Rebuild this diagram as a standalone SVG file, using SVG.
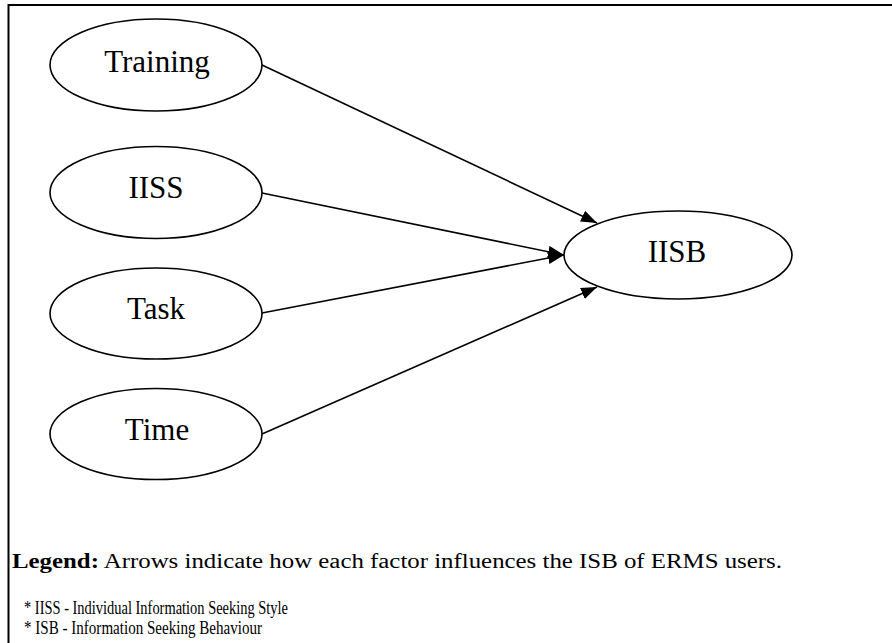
<svg xmlns="http://www.w3.org/2000/svg" width="892" height="643" viewBox="0 0 892 643">
<defs>
<style>
.node ellipse{fill:#fff;stroke:#000;stroke-width:1.6}
.node text{font-family:"Liberation Serif","Times New Roman",serif;font-size:31px;fill:#000;text-anchor:middle}
.edge{stroke:#000;stroke-width:1.6;fill:none;marker-end:url(#arrow)}
.legend{font-family:"Liberation Serif","Times New Roman",serif;font-size:20px;fill:#000}
.note{font-family:"Liberation Serif","Times New Roman",serif;font-size:18px;fill:#000}
</style>
<marker id="arrow" viewBox="0 0 16 12" refX="16" refY="6" markerUnits="userSpaceOnUse" markerWidth="16" markerHeight="12" orient="auto">
<path d="M0,0 L16,6 L0,12 Z" fill="#000"/>
</marker>
</defs>
<rect width="892" height="643" fill="#fff"/>
<path d="M8.5,643 V5 H892" fill="none" stroke="#000" stroke-width="2"/>
<g id="connectors">
<line class="edge" x1="262" y1="65" x2="597" y2="223"/>
<line class="edge" x1="262" y1="193" x2="564" y2="255"/>
<line class="edge" x1="262" y1="313" x2="564" y2="255"/>
<line class="edge" x1="262" y1="434" x2="597" y2="287"/>
</g>
<g id="node-training" class="node">
<ellipse cx="156" cy="65" rx="106" ry="46"/>
<text x="157" y="72">Training</text>
</g>
<g id="node-iiss" class="node">
<ellipse cx="156" cy="192.5" rx="106" ry="46"/>
<text x="156" y="198">IISS</text>
</g>
<g id="node-task" class="node">
<ellipse cx="156" cy="313.5" rx="106" ry="45.5"/>
<text x="156" y="319">Task</text>
</g>
<g id="node-time" class="node">
<ellipse cx="156" cy="434" rx="106" ry="45.5"/>
<text x="157" y="440">Time</text>
</g>
<g id="node-iisb" class="node">
<ellipse cx="678" cy="255" rx="114" ry="44"/>
<text x="677" y="262">IISB</text>
</g>
<g id="legend">
<text class="legend" x="12" y="568" textLength="770" lengthAdjust="spacingAndGlyphs"><tspan font-weight="bold">Legend:</tspan> Arrows indicate how each factor influences the ISB of ERMS users.</text>
<text class="note" x="24" y="614" textLength="264" lengthAdjust="spacingAndGlyphs">* IISS - Individual Information Seeking Style</text>
<text class="note" x="24" y="634" textLength="238" lengthAdjust="spacingAndGlyphs">* ISB - Information Seeking Behaviour</text>
</g>
</svg>
